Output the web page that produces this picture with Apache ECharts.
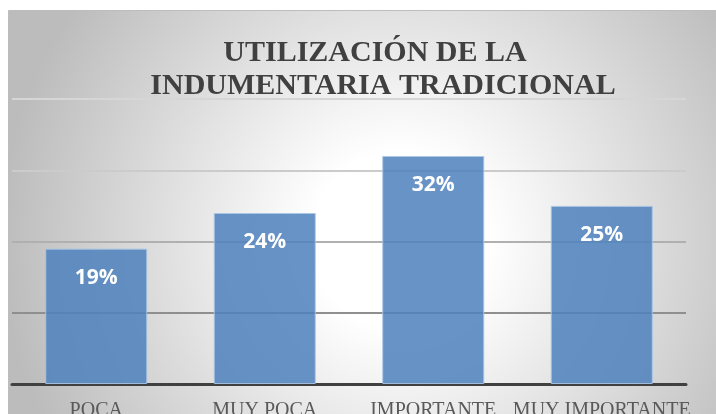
<!DOCTYPE html>
<html>
<head>
<meta charset="utf-8">
<script src="https://cdn.jsdelivr.net/npm/echarts@6/dist/echarts.min.js"></script>
<style>
  html, body { margin: 0; padding: 0; background: #fff; }
  #chart { width: 716px; height: 414px; }
</style>
</head>
<body>
<div id="chart"></div>
<script>
const categories = ['POCA', 'MUY POCA', 'IMPORTANTE', 'MUY IMPORTANTE'];
const values = [19, 24, 32, 25];
const titleLines = ['UTILIZACIÓN DE LA', 'INDUMENTARIA TRADICIONAL'];

const chart = echarts.init(document.getElementById('chart'), null, { renderer: 'canvas' });

const option = {
  animation: false,
  backgroundColor: '#ffffff',
  graphic: [
    {
      type: 'rect',
      z: -100,
      silent: true,
      shape: { x: 8.5, y: 10.5, width: 800, height: 500 },
      style: {
        fill: new echarts.graphic.RadialGradient(400, 240, 400, [
          { offset: 0, color: '#ffffff' },
          { offset: 0.22, color: '#ffffff' },
          { offset: 1, color: '#bcbcbc' }
        ], true),
        stroke: '#bdbdbd',
        lineWidth: 1
      }
    }
  ],
  title: [
    {
      text: titleLines[0],
      left: 370,
      top: 33,
      textAlign: 'center',
      textStyle: {
        fontFamily: 'Liberation Serif',
        fontWeight: 'bold',
        fontSize: 30,
        lineHeight: 30,
        color: '#404040'
      }
    },
    {
      text: titleLines[1],
      left: 378,
      top: 66,
      textAlign: 'center',
      textStyle: {
        fontFamily: 'Liberation Serif',
        fontWeight: 'bold',
        fontSize: 30,
        lineHeight: 30,
        color: '#404040'
      }
    }
  ],
  grid: {
    left: 12,
    right: 30,
    top: 99,
    bottom: 30,
    containLabel: false,
    outerBoundsMode: 'none'
  },
  xAxis: {
    type: 'category',
    data: categories,
    axisLine: { show: true, lineStyle: { color: '#404040', width: 3 } },
    axisTick: { show: false },
    axisLabel: {
      interval: 0,
      margin: 17,
      fontFamily: 'Liberation Serif',
      fontSize: 20,
      lineHeight: 20,
      color: '#595959'
    },
    splitLine: { show: false }
  },
  yAxis: {
    type: 'value',
    min: 0,
    max: 40,
    interval: 10,
    axisLine: { show: false },
    axisTick: { show: false },
    axisLabel: { show: false },
    splitLine: {
      show: true,
      lineStyle: {
        width: 2,
        color: ['#8f8f8f', '#8f8f8f', '#b0b0b0', '#cbcbcb', '#d6d6d6']
      }
    }
  },
  series: [
    {
      type: 'bar',
      data: values,
      barWidth: 102,
      itemStyle: {
        color: 'rgba(79,129,189,0.86)',
        borderColor: 'rgba(170,198,230,0.9)',
        borderWidth: 1
      },
      label: {
        show: true,
        position: 'insideTop',
        distance: 19,
        formatter: '{c}%',
        fontFamily: 'Open Sans',
        fontWeight: 'bold',
        fontSize: 21,
        lineHeight: 21,
        color: '#ffffff'
      }
    }
  ]
};

chart.setOption(option);
</script>
</body>
</html>
